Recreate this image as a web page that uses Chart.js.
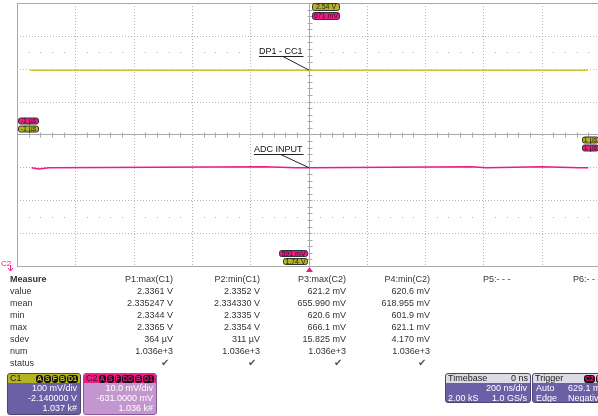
<!DOCTYPE html>
<html>
<head>
<meta charset="utf-8">
<script src="https://cdn.jsdelivr.net/npm/chart.js@4.4.1/dist/chart.umd.min.js"></script>
<style>
  html, body { margin: 0; padding: 0; background: #fff; }
  body { width: 598px; height: 416px; position: relative; overflow: hidden; font-family: "Liberation Sans", Arial, sans-serif; color: #333; }
  #scope { position: absolute; left: 0; top: 0; width: 598px; height: 274px; overflow: hidden; }
  .cell { position: absolute; font-size: 9px; line-height: 12px; white-space: nowrap; }
  .r { text-align: right; width: 100px; }
  .chk { font-size: 10px; color: #555; }
  .box { position: absolute; border: 1px solid #4a4470; border-radius: 3px; overflow: hidden; font-size: 9px; color: #fff; }
  .hdr { height: 9px; line-height: 9px; font-size: 9px; padding: 0 2px; color: #222; position: relative; }
  .ln { height: 10px; line-height: 10px; padding: 0 3px; text-align: right; position: relative; white-space: nowrap; }
  .ic { display: inline-block; background: #111; border-radius: 3px; font-size: 7px; line-height: 8px; padding: 0 1px; margin-left: 1px; font-weight: bold; }
</style>
</head>
<body>
<div id="scope"><canvas id="scopeChart" width="602" height="274"></canvas></div>
<div id="table"></div>
<div id="boxes"></div>
<script>
// C1 trace (DP1 - CC1), volts
const c1Times = [-955, -910, -900, -620, -530, -200, 0, 235, 720, 835, 940, 958];
const c1Volts = [2.3358, 2.3358, 2.3352, 2.3358, 2.3352, 2.3358, 2.3358, 2.3355, 2.3358, 2.3352, 2.3355, 2.3358];
// C2 trace (ADC INPUT), millivolts
const c2Times = [-950, -925, -890, -150, -45, 0, 560, 610, 800, 930, 960];
const c2MilliVolts = [620.9, 620.5, 620.9, 621.2, 620.9, 620.9, 621.2, 620.9, 621.2, 620.9, 620.9];

// screen settings
const timeRange = [-1000, 1000];      // 200 ns/div
const c1Range = [1.74, 2.54];          // 100 mV/div, offset -2.14 V
const c2Range = [591, 671];            // 10 mV/div, offset -631 mV

// measurement table
const measureRows = ['value', 'mean', 'min', 'max', 'sdev', 'num', 'status'];
const measureHeads = ['P1:max(C1)', 'P2:min(C1)', 'P3:max(C2)', 'P4:min(C2)'];
const p1Values = ['2.3361 V', '2.335247 V', '2.3344 V', '2.3365 V', '364 µV', '1.036e+3', '✔'];
const p2Values = ['2.3352 V', '2.334330 V', '2.3335 V', '2.3354 V', '311 µV', '1.036e+3', '✔'];
const p3Values = ['621.2 mV', '655.990 mV', '620.6 mV', '666.1 mV', '15.825 mV', '1.036e+3', '✔'];
const p4Values = ['620.6 mV', '618.955 mV', '601.9 mV', '621.1 mV', '4.170 mV', '1.036e+3', '✔'];

const YELLOW = '#c8c832';
const PINK = '#ee1a86';

function toPoints(xs, ys) {
    return xs.map((x, i) => ({ x: x, y: ys[i] }));
}

function badge(ctx, x, y, w, h, bg, text, fg) {
    ctx.beginPath();
    ctx.roundRect(x + 0.5, y + 0.5, w, h, 2);
    ctx.fillStyle = bg;
    ctx.fill();
    ctx.strokeStyle = '#333';
    ctx.lineWidth = 1;
    ctx.stroke();
    ctx.fillStyle = fg;
    ctx.font = '7px "Liberation Sans", Arial';
    ctx.textAlign = 'center';
    ctx.textBaseline = 'middle';
    ctx.fillText(text, x + w / 2 + 0.5, y + h / 2 + 1);
}

// graticule drawn from the scales
const gridPlugin = {
    id: 'graticule',
    beforeDatasetsDraw(chart) {
        const ctx = chart.ctx;
        const a = chart.chartArea;
        const xs = chart.scales.x;
        const ys = chart.scales.y1;
        const c = v => Math.round(v) + 0.5;
        ctx.save();
        ctx.lineWidth = 1;
        // dotted division lines
        ctx.strokeStyle = '#b4b4b4';
        ctx.setLineDash([1, 2]);
        for (let t = timeRange[0] + 200; t < timeRange[1]; t += 200) {
            if (t === 0) continue;
            const px = c(xs.getPixelForValue(t));
            ctx.beginPath(); ctx.moveTo(px, a.top); ctx.lineTo(px, a.bottom); ctx.stroke();
        }
        for (let v = 1; v < 8; v++) {
            if (v === 4) continue;
            const py = c(ys.getPixelForValue(c1Range[0] + v * 0.1));
            ctx.beginPath(); ctx.moveTo(a.left, py); ctx.lineTo(a.right, py); ctx.stroke();
        }
        ctx.setLineDash([]);
        // center axes and frame
        ctx.strokeStyle = '#a8a8a8';
        const cx = c(xs.getPixelForValue(0));
        const cy = c(ys.getPixelForValue(2.14));
        ctx.beginPath();
        ctx.moveTo(cx, a.top); ctx.lineTo(cx, a.bottom);
        ctx.moveTo(a.left, cy); ctx.lineTo(a.right, cy);
        ctx.stroke();
        ctx.strokeRect(c(a.left), c(a.top), Math.round(a.right - a.left), Math.round(a.bottom - a.top));
        // minor ticks on center axes
        ctx.beginPath();
        for (let t = timeRange[0]; t <= timeRange[1]; t += 40) {
            if (t % 200 === 0) continue;
            const px = c(xs.getPixelForValue(t));
            ctx.moveTo(px, cy - 2); ctx.lineTo(px, cy + 3);
        }
        for (let v = c1Range[0]; v <= c1Range[1] + 1e-9; v += 0.02) {
            const py = c(ys.getPixelForValue(v));
            ctx.moveTo(cx - 2, py); ctx.lineTo(cx + 3, py);
        }
        ctx.stroke();
        // dot rows at +/- 2.5 div
        ctx.fillStyle = '#b4b4b4';
        [2.14 + 0.25, 2.14 - 0.25].forEach(v => {
            const py = Math.round(ys.getPixelForValue(v));
            for (let t = timeRange[0]; t <= timeRange[1]; t += 40) {
                if (t % 200 === 0) continue;
                ctx.fillRect(Math.round(xs.getPixelForValue(t)), py, 1, 1);
            }
        });
        ctx.restore();
    },
    afterDatasetsDraw(chart) {
        const ctx = chart.ctx;
        const a = chart.chartArea;
        const xs = chart.scales.x;
        const y1 = chart.scales.y1;
        const y2 = chart.scales.y2;
        const cx = Math.round(xs.getPixelForValue(0));
        ctx.save();
        // trace labels with leader lines
        ctx.font = '9px "Liberation Sans", Arial';
        ctx.fillStyle = '#111';
        ctx.strokeStyle = '#222';
        ctx.lineWidth = 1;
        ctx.textAlign = 'left';
        ctx.textBaseline = 'alphabetic';
        const labels = [
            { text: 'DP1 - CC1', x: 259, yp: y1.getPixelForValue(c1Volts[6]) },
            { text: 'ADC INPUT', x: 254, yp: y2.getPixelForValue(c2MilliVolts[5]) }
        ];
        labels.forEach(l => {
            const uy = Math.round(l.yp) - 14;
            const w = ctx.measureText(l.text).width;
            ctx.fillText(l.text, l.x, uy - 2);
            ctx.beginPath();
            ctx.moveTo(l.x, uy + 0.5); ctx.lineTo(l.x + w + 1, uy + 0.5);
            ctx.moveTo(l.x + w * 0.55, uy + 0.5); ctx.lineTo(cx, l.yp);
            ctx.stroke();
        });
        // reference badges
        badge(ctx, cx + 3, a.top, 27, 7, '#b4b41e', c1Range[1].toFixed(2) + ' V', '#222');
        badge(ctx, cx + 3, a.top + 9, 27, 7, PINK, c2Range[1] + ' mV', '#222');
        badge(ctx, cx - 30, a.bottom - 16, 28, 6, PINK, c2Range[0] + ' mV', '#222');
        badge(ctx, cx - 26, a.bottom - 8, 24, 6, '#b4b41e', c1Range[0].toFixed(2) + ' V', '#222');
        badge(ctx, a.left + 1, y1.getPixelForValue(2.14) - 17, 20, 6, PINK, '-1 µs', '#222');
        badge(ctx, a.left + 1, y1.getPixelForValue(2.14) - 9, 20, 6, '#b4b41e', '-1 µs', '#222');
        badge(ctx, 582, y1.getPixelForValue(2.14) + 2, 16, 6, '#b4b41e', '1 µs', '#222');
        badge(ctx, 582, y1.getPixelForValue(2.14) + 10, 16, 6, PINK, '1 µs', '#222');
        // trigger marker
        ctx.fillStyle = PINK;
        ctx.beginPath();
        ctx.moveTo(cx + 0.5, a.bottom + 1);
        ctx.lineTo(cx + 4, a.bottom + 6);
        ctx.lineTo(cx - 3, a.bottom + 6);
        ctx.closePath();
        ctx.fill();
        // C2 ground marker
        ctx.font = '8px "Liberation Sans", Arial';
        ctx.fillText('C2', 6, a.bottom - 2);
        ctx.strokeStyle = PINK;
        ctx.beginPath();
        ctx.moveTo(10.5, a.bottom - 1); ctx.lineTo(10.5, a.bottom + 5);
        ctx.moveTo(8, a.bottom + 2); ctx.lineTo(10.5, a.bottom + 5); ctx.lineTo(13, a.bottom + 2);
        ctx.stroke();
        ctx.restore();
    }
};

new Chart(document.getElementById('scopeChart').getContext('2d'), {
    type: 'line',
    data: {
        datasets: [{
            label: 'C1',
            data: toPoints(c1Times, c1Volts),
            yAxisID: 'y1',
            borderColor: YELLOW,
            borderWidth: 1.5,
            pointRadius: 0,
            tension: 0
        }, {
            label: 'C2',
            data: toPoints(c2Times, c2MilliVolts),
            yAxisID: 'y2',
            borderColor: PINK,
            borderWidth: 1.5,
            pointRadius: 0,
            tension: 0
        }]
    },
    options: {
        responsive: false,
        animation: false,
        layout: { padding: { left: 17, top: 3, right: 2, bottom: 8 } },
        scales: {
            x: { type: 'linear', min: timeRange[0], max: timeRange[1], display: false },
            y1: { min: c1Range[0], max: c1Range[1], display: false },
            y2: { min: c2Range[0], max: c2Range[1], display: false }
        },
        plugins: { legend: { display: false }, tooltip: { enabled: false } }
    },
    plugins: [gridPlugin]
});

// measurement table
const table = document.getElementById('table');
function addCell(text, left, top, cls, right) {
    const d = document.createElement('div');
    d.className = 'cell' + (cls ? ' ' + cls : '');
    d.textContent = text;
    d.style.top = top + 'px';
    d.style.left = (right ? left - 100 : left) + 'px';
    table.appendChild(d);
}
const rowTop = 273;
const colRights = [173, 260, 346, 430];
const colValues = [p1Values, p2Values, p3Values, p4Values];
addCell('Measure', 10, rowTop, '', false);
table.lastChild.style.fontWeight = 'bold';
measureHeads.forEach((h, i) => addCell(h, colRights[i], rowTop, 'r', true));
addCell('P5:- - -', 483, rowTop, '', false);
addCell('P6:- - -', 573, rowTop, '', false);
measureRows.forEach((r, j) => {
    const top = rowTop + 12 * (j + 1);
    addCell(r, 10, top, '', false);
    colValues.forEach((vals, i) => {
        const isChk = r === 'status';
        addCell(vals[j], isChk ? colRights[i] - 4 : colRights[i], top, isChk ? 'r chk' : 'r', true);
    });
});

// channel / timebase / trigger boxes
document.getElementById('boxes').innerHTML = `
<div class="box" style="left:7px;top:373px;width:72px;height:40px;background:#6b5fa6;">
  <div class="hdr" style="background:#b4b41e;">C1<span style="position:absolute;right:2px;top:0;"><span class="ic" style="color:#c8c832">A</span><span class="ic" style="color:#c8c832">S</span><span class="ic" style="color:#c8c832">F</span><span class="ic" style="color:#c8c832">B</span><span class="ic" style="color:#c8c832">D1</span></span></div>
  <div class="ln">100 mV/div</div><div class="ln">-2.140000 V</div><div class="ln">1.037 k#</div>
</div>
<div class="box" style="left:83px;top:373px;width:72px;height:40px;background:#c496d0;border-color:#8a5a98;">
  <div class="hdr" style="background:#ee1a86;">C2<span style="position:absolute;right:2px;top:0;"><span class="ic" style="color:#ee1a86">A</span><span class="ic" style="color:#ee1a86">S</span><span class="ic" style="color:#ee1a86">F</span><span class="ic" style="color:#ee1a86">DD</span><span class="ic" style="color:#ee1a86">B</span><span class="ic" style="color:#ee1a86">D1</span></span></div>
  <div class="ln">10.0 mV/div</div><div class="ln">-631.0000 mV</div><div class="ln">1.036 k#</div>
</div>
<div class="box" style="left:445px;top:373px;width:84px;height:28px;background:#6b5fa6;">
  <div class="hdr" style="background:#dcdce6;">Timebase<span style="position:absolute;right:2px;">0 ns</span></div>
  <div class="ln">200 ns/div</div><div class="ln">1.0 GS/s<span style="position:absolute;left:2px;">2.00 kS</span></div>
</div>
<div class="box" style="left:532px;top:373px;width:80px;height:28px;background:#6b5fa6;">
  <div class="hdr" style="background:#dcdce6;">Trigger<span style="position:absolute;left:50px;top:0;"><span class="ic" style="color:#ee1a86">C2</span><span class="ic" style="color:#fff">DC</span></span></div>
  <div class="ln" style="text-align:left;">Auto<span style="position:absolute;left:35px;top:0;">629.1 mV</span></div>
  <div class="ln" style="text-align:left;">Edge<span style="position:absolute;left:35px;top:0;">Negative</span></div>
</div>`;
</script>
</body>
</html>
